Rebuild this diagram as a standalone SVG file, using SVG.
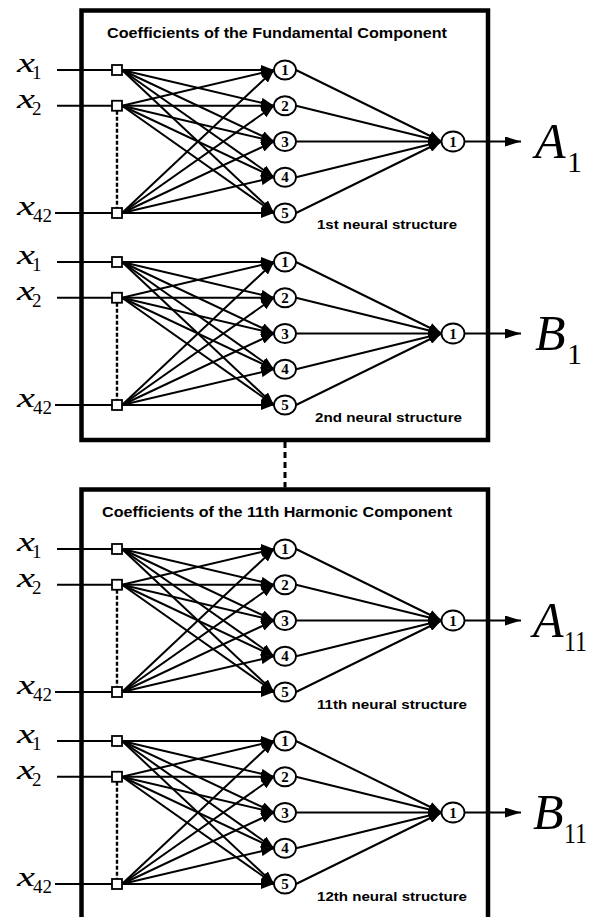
<svg xmlns="http://www.w3.org/2000/svg" width="589" height="917" viewBox="0 0 589 917">
<style>
.box{fill:none;stroke:#000;stroke-width:4.5}
.ln{stroke:#000;stroke-width:2;fill:none}
.in{stroke:#000;stroke-width:2.2;fill:none}
.sq{fill:#fff;stroke:#000;stroke-width:1.8}
.hn{fill:#fff;stroke:#000;stroke-width:1.8}
.num{font-family:"Liberation Serif",serif;font-weight:bold;font-size:15px;text-anchor:middle}
.xv{font-family:"Liberation Serif",serif;font-style:italic;font-size:27px}
.sub{font-family:"Liberation Serif",serif;font-size:19px}
.big{font-family:"Liberation Serif",serif;font-style:italic;font-size:50px}
.bsub{font-family:"Liberation Serif",serif;font-size:30px}
.ssub{font-family:"Liberation Serif",serif;font-size:24px}
.ttl{font-family:"Liberation Sans",Arial,sans-serif;font-weight:bold;font-size:14px}
.lbl{font-family:"Liberation Sans",Arial,sans-serif;font-weight:bold;font-size:13.5px}
.dash{stroke:#000;stroke-width:2.4;stroke-dasharray:4 2;fill:none}
</style>
<defs>
<marker id="ah" markerUnits="userSpaceOnUse" markerWidth="13" markerHeight="10" refX="13" refY="5" orient="auto">
<path d="M0,0 L13,5 L0,10 Z" fill="#000"/>
</marker>
<marker id="oh" markerUnits="userSpaceOnUse" markerWidth="16" markerHeight="10" refX="16" refY="5" orient="auto">
<path d="M0,0 L16,5 L0,10 Z" fill="#000"/>
</marker>
</defs>
<rect x="0" y="0" width="589" height="917" fill="#fff"/>

<g id="box1"><rect class="box" x="81.5" y="10.5" width="406.5" height="429.5"/>
<text class="ttl" x="107" y="38" textLength="340" lengthAdjust="spacingAndGlyphs">Coefficients of the Fundamental Component</text></g>
<g id="box2"><rect class="box" x="81.5" y="489.5" width="406.5" height="460"/>
<text class="ttl" x="102" y="517" textLength="350" lengthAdjust="spacingAndGlyphs">Coefficients of the 11th Harmonic Component</text></g>
<g id="link"><line x1="285" y1="442" x2="285" y2="487.5" stroke="#000" stroke-width="3" stroke-dasharray="6 4"/></g>

<!-- Structure 1 -->
<g id="s1">
<g id="s1-connectors">
<line class="in" x1="57" y1="70" x2="112" y2="70"/>
<line class="in" x1="57" y1="105.75" x2="112" y2="105.75"/>
<line class="in" x1="55" y1="213" x2="112" y2="213"/>
<line class="dash" x1="117" y1="110.75" x2="117" y2="208"/>
<line class="ln" marker-end="url(#ah)" x1="122" y1="70" x2="274" y2="70"/>
<line class="ln" marker-end="url(#ah)" x1="122" y1="70" x2="274" y2="105.75"/>
<line class="ln" marker-end="url(#ah)" x1="122" y1="70" x2="274" y2="141.5"/>
<line class="ln" marker-end="url(#ah)" x1="122" y1="70" x2="274" y2="177.25"/>
<line class="ln" marker-end="url(#ah)" x1="122" y1="70" x2="274" y2="213"/>
<line class="ln" marker-end="url(#ah)" x1="122" y1="105.75" x2="274" y2="70"/>
<line class="ln" marker-end="url(#ah)" x1="122" y1="105.75" x2="274" y2="105.75"/>
<line class="ln" marker-end="url(#ah)" x1="122" y1="105.75" x2="274" y2="141.5"/>
<line class="ln" marker-end="url(#ah)" x1="122" y1="105.75" x2="274" y2="177.25"/>
<line class="ln" marker-end="url(#ah)" x1="122" y1="105.75" x2="274" y2="213"/>
<line class="ln" marker-end="url(#ah)" x1="122" y1="213" x2="274" y2="70"/>
<line class="ln" marker-end="url(#ah)" x1="122" y1="213" x2="274" y2="105.75"/>
<line class="ln" marker-end="url(#ah)" x1="122" y1="213" x2="274" y2="141.5"/>
<line class="ln" marker-end="url(#ah)" x1="122" y1="213" x2="274" y2="177.25"/>
<line class="ln" marker-end="url(#ah)" x1="122" y1="213" x2="274" y2="213"/>
<line class="ln" marker-end="url(#ah)" x1="296" y1="70" x2="441.5" y2="141.5"/>
<line class="ln" marker-end="url(#ah)" x1="296" y1="105.75" x2="441.5" y2="141.5"/>
<line class="ln" marker-end="url(#ah)" x1="296" y1="141.5" x2="441.5" y2="141.5"/>
<line class="ln" marker-end="url(#ah)" x1="296" y1="177.25" x2="441.5" y2="141.5"/>
<line class="ln" marker-end="url(#ah)" x1="296" y1="213" x2="441.5" y2="141.5"/>
<line class="in" marker-end="url(#oh)" x1="464.5" y1="141.5" x2="521" y2="141.5"/>
</g>
<g id="s1-x1"><text class="xv" x="17" y="72" textLength="18" lengthAdjust="spacingAndGlyphs">x</text><text class="sub" x="32" y="79">1</text><rect class="sq" x="112" y="65" width="10" height="10"/></g>
<g id="s1-x2"><text class="xv" x="17" y="107.75" textLength="18" lengthAdjust="spacingAndGlyphs">x</text><text class="sub" x="32" y="114.75">2</text><rect class="sq" x="112" y="100.75" width="10" height="10"/></g>
<g id="s1-x42"><text class="xv" x="17" y="215" textLength="18" lengthAdjust="spacingAndGlyphs">x</text><text class="sub" x="33" y="222" textLength="19" lengthAdjust="spacingAndGlyphs">42</text><rect class="sq" x="112" y="208" width="10" height="10"/></g>
<g id="s1-h1"><ellipse class="hn" cx="285" cy="70" rx="11" ry="9.5"/><text class="num" x="285" y="75">1</text></g>
<g id="s1-h2"><ellipse class="hn" cx="285" cy="105.75" rx="11" ry="9.5"/><text class="num" x="285" y="110.75">2</text></g>
<g id="s1-h3"><ellipse class="hn" cx="285" cy="141.5" rx="11" ry="9.5"/><text class="num" x="285" y="146.5">3</text></g>
<g id="s1-h4"><ellipse class="hn" cx="285" cy="177.25" rx="11" ry="9.5"/><text class="num" x="285" y="182.25">4</text></g>
<g id="s1-h5"><ellipse class="hn" cx="285" cy="213" rx="11" ry="9.5"/><text class="num" x="285" y="218">5</text></g>
<g id="s1-out"><ellipse class="hn" cx="453" cy="141.5" rx="11.5" ry="10"/><text class="num" x="453" y="146.5">1</text></g>
<g id="s1-A1"><text class="big" x="535" y="157.5">A</text><text class="bsub" x="567" y="171.5">1</text></g>
<text class="lbl" x="317" y="229" textLength="140" lengthAdjust="spacingAndGlyphs">1st neural structure</text>
</g>

<!-- Structure 2 -->
<g id="s2" transform="translate(0,192)">
<g id="s2-connectors">
<line class="in" x1="57" y1="70" x2="112" y2="70"/>
<line class="in" x1="57" y1="105.75" x2="112" y2="105.75"/>
<line class="in" x1="55" y1="213" x2="112" y2="213"/>
<line class="dash" x1="117" y1="110.75" x2="117" y2="208"/>
<line class="ln" marker-end="url(#ah)" x1="122" y1="70" x2="274" y2="70"/>
<line class="ln" marker-end="url(#ah)" x1="122" y1="70" x2="274" y2="105.75"/>
<line class="ln" marker-end="url(#ah)" x1="122" y1="70" x2="274" y2="141.5"/>
<line class="ln" marker-end="url(#ah)" x1="122" y1="70" x2="274" y2="177.25"/>
<line class="ln" marker-end="url(#ah)" x1="122" y1="70" x2="274" y2="213"/>
<line class="ln" marker-end="url(#ah)" x1="122" y1="105.75" x2="274" y2="70"/>
<line class="ln" marker-end="url(#ah)" x1="122" y1="105.75" x2="274" y2="105.75"/>
<line class="ln" marker-end="url(#ah)" x1="122" y1="105.75" x2="274" y2="141.5"/>
<line class="ln" marker-end="url(#ah)" x1="122" y1="105.75" x2="274" y2="177.25"/>
<line class="ln" marker-end="url(#ah)" x1="122" y1="105.75" x2="274" y2="213"/>
<line class="ln" marker-end="url(#ah)" x1="122" y1="213" x2="274" y2="70"/>
<line class="ln" marker-end="url(#ah)" x1="122" y1="213" x2="274" y2="105.75"/>
<line class="ln" marker-end="url(#ah)" x1="122" y1="213" x2="274" y2="141.5"/>
<line class="ln" marker-end="url(#ah)" x1="122" y1="213" x2="274" y2="177.25"/>
<line class="ln" marker-end="url(#ah)" x1="122" y1="213" x2="274" y2="213"/>
<line class="ln" marker-end="url(#ah)" x1="296" y1="70" x2="441.5" y2="141.5"/>
<line class="ln" marker-end="url(#ah)" x1="296" y1="105.75" x2="441.5" y2="141.5"/>
<line class="ln" marker-end="url(#ah)" x1="296" y1="141.5" x2="441.5" y2="141.5"/>
<line class="ln" marker-end="url(#ah)" x1="296" y1="177.25" x2="441.5" y2="141.5"/>
<line class="ln" marker-end="url(#ah)" x1="296" y1="213" x2="441.5" y2="141.5"/>
<line class="in" marker-end="url(#oh)" x1="464.5" y1="141.5" x2="521" y2="141.5"/>
</g>
<g id="s2-x1"><text class="xv" x="17" y="72" textLength="18" lengthAdjust="spacingAndGlyphs">x</text><text class="sub" x="32" y="79">1</text><rect class="sq" x="112" y="65" width="10" height="10"/></g>
<g id="s2-x2"><text class="xv" x="17" y="107.75" textLength="18" lengthAdjust="spacingAndGlyphs">x</text><text class="sub" x="32" y="114.75">2</text><rect class="sq" x="112" y="100.75" width="10" height="10"/></g>
<g id="s2-x42"><text class="xv" x="17" y="215" textLength="18" lengthAdjust="spacingAndGlyphs">x</text><text class="sub" x="33" y="222" textLength="19" lengthAdjust="spacingAndGlyphs">42</text><rect class="sq" x="112" y="208" width="10" height="10"/></g>
<g id="s2-h1"><ellipse class="hn" cx="285" cy="70" rx="11" ry="9.5"/><text class="num" x="285" y="75">1</text></g>
<g id="s2-h2"><ellipse class="hn" cx="285" cy="105.75" rx="11" ry="9.5"/><text class="num" x="285" y="110.75">2</text></g>
<g id="s2-h3"><ellipse class="hn" cx="285" cy="141.5" rx="11" ry="9.5"/><text class="num" x="285" y="146.5">3</text></g>
<g id="s2-h4"><ellipse class="hn" cx="285" cy="177.25" rx="11" ry="9.5"/><text class="num" x="285" y="182.25">4</text></g>
<g id="s2-h5"><ellipse class="hn" cx="285" cy="213" rx="11" ry="9.5"/><text class="num" x="285" y="218">5</text></g>
<g id="s2-out"><ellipse class="hn" cx="453" cy="141.5" rx="11.5" ry="10"/><text class="num" x="453" y="146.5">1</text></g>
<g id="s2-B1"><text class="big" x="535" y="157.5">B</text><text class="bsub" x="567" y="171.5">1</text></g>
<text class="lbl" x="315" y="230" textLength="147" lengthAdjust="spacingAndGlyphs">2nd neural structure</text>
</g>

<!-- Structure 3 -->
<g id="s3" transform="translate(0,479)">
<g id="s3-connectors">
<line class="in" x1="57" y1="70" x2="112" y2="70"/>
<line class="in" x1="57" y1="105.75" x2="112" y2="105.75"/>
<line class="in" x1="55" y1="213" x2="112" y2="213"/>
<line class="dash" x1="117" y1="110.75" x2="117" y2="208"/>
<line class="ln" marker-end="url(#ah)" x1="122" y1="70" x2="274" y2="70"/>
<line class="ln" marker-end="url(#ah)" x1="122" y1="70" x2="274" y2="105.75"/>
<line class="ln" marker-end="url(#ah)" x1="122" y1="70" x2="274" y2="141.5"/>
<line class="ln" marker-end="url(#ah)" x1="122" y1="70" x2="274" y2="177.25"/>
<line class="ln" marker-end="url(#ah)" x1="122" y1="70" x2="274" y2="213"/>
<line class="ln" marker-end="url(#ah)" x1="122" y1="105.75" x2="274" y2="70"/>
<line class="ln" marker-end="url(#ah)" x1="122" y1="105.75" x2="274" y2="105.75"/>
<line class="ln" marker-end="url(#ah)" x1="122" y1="105.75" x2="274" y2="141.5"/>
<line class="ln" marker-end="url(#ah)" x1="122" y1="105.75" x2="274" y2="177.25"/>
<line class="ln" marker-end="url(#ah)" x1="122" y1="105.75" x2="274" y2="213"/>
<line class="ln" marker-end="url(#ah)" x1="122" y1="213" x2="274" y2="70"/>
<line class="ln" marker-end="url(#ah)" x1="122" y1="213" x2="274" y2="105.75"/>
<line class="ln" marker-end="url(#ah)" x1="122" y1="213" x2="274" y2="141.5"/>
<line class="ln" marker-end="url(#ah)" x1="122" y1="213" x2="274" y2="177.25"/>
<line class="ln" marker-end="url(#ah)" x1="122" y1="213" x2="274" y2="213"/>
<line class="ln" marker-end="url(#ah)" x1="296" y1="70" x2="441.5" y2="141.5"/>
<line class="ln" marker-end="url(#ah)" x1="296" y1="105.75" x2="441.5" y2="141.5"/>
<line class="ln" marker-end="url(#ah)" x1="296" y1="141.5" x2="441.5" y2="141.5"/>
<line class="ln" marker-end="url(#ah)" x1="296" y1="177.25" x2="441.5" y2="141.5"/>
<line class="ln" marker-end="url(#ah)" x1="296" y1="213" x2="441.5" y2="141.5"/>
<line class="in" marker-end="url(#oh)" x1="464.5" y1="141.5" x2="521" y2="141.5"/>
</g>
<g id="s3-x1"><text class="xv" x="17" y="72" textLength="18" lengthAdjust="spacingAndGlyphs">x</text><text class="sub" x="32" y="79">1</text><rect class="sq" x="112" y="65" width="10" height="10"/></g>
<g id="s3-x2"><text class="xv" x="17" y="107.75" textLength="18" lengthAdjust="spacingAndGlyphs">x</text><text class="sub" x="32" y="114.75">2</text><rect class="sq" x="112" y="100.75" width="10" height="10"/></g>
<g id="s3-x42"><text class="xv" x="17" y="215" textLength="18" lengthAdjust="spacingAndGlyphs">x</text><text class="sub" x="33" y="222" textLength="19" lengthAdjust="spacingAndGlyphs">42</text><rect class="sq" x="112" y="208" width="10" height="10"/></g>
<g id="s3-h1"><ellipse class="hn" cx="285" cy="70" rx="11" ry="9.5"/><text class="num" x="285" y="75">1</text></g>
<g id="s3-h2"><ellipse class="hn" cx="285" cy="105.75" rx="11" ry="9.5"/><text class="num" x="285" y="110.75">2</text></g>
<g id="s3-h3"><ellipse class="hn" cx="285" cy="141.5" rx="11" ry="9.5"/><text class="num" x="285" y="146.5">3</text></g>
<g id="s3-h4"><ellipse class="hn" cx="285" cy="177.25" rx="11" ry="9.5"/><text class="num" x="285" y="182.25">4</text></g>
<g id="s3-h5"><ellipse class="hn" cx="285" cy="213" rx="11" ry="9.5"/><text class="num" x="285" y="218">5</text></g>
<g id="s3-out"><ellipse class="hn" cx="453" cy="141.5" rx="11.5" ry="10"/><text class="num" x="453" y="146.5">1</text></g>
<g id="s3-A11"><text class="big" x="533" y="157.5">A</text><text class="ssub" transform="translate(564,171.5) scale(1,1.2)">11</text></g>
<text class="lbl" x="317" y="230" textLength="150" lengthAdjust="spacingAndGlyphs">11th neural structure</text>
</g>

<!-- Structure 4 -->
<g id="s4" transform="translate(0,671)">
<g id="s4-connectors">
<line class="in" x1="57" y1="70" x2="112" y2="70"/>
<line class="in" x1="57" y1="105.75" x2="112" y2="105.75"/>
<line class="in" x1="55" y1="213" x2="112" y2="213"/>
<line class="dash" x1="117" y1="110.75" x2="117" y2="208"/>
<line class="ln" marker-end="url(#ah)" x1="122" y1="70" x2="274" y2="70"/>
<line class="ln" marker-end="url(#ah)" x1="122" y1="70" x2="274" y2="105.75"/>
<line class="ln" marker-end="url(#ah)" x1="122" y1="70" x2="274" y2="141.5"/>
<line class="ln" marker-end="url(#ah)" x1="122" y1="70" x2="274" y2="177.25"/>
<line class="ln" marker-end="url(#ah)" x1="122" y1="70" x2="274" y2="213"/>
<line class="ln" marker-end="url(#ah)" x1="122" y1="105.75" x2="274" y2="70"/>
<line class="ln" marker-end="url(#ah)" x1="122" y1="105.75" x2="274" y2="105.75"/>
<line class="ln" marker-end="url(#ah)" x1="122" y1="105.75" x2="274" y2="141.5"/>
<line class="ln" marker-end="url(#ah)" x1="122" y1="105.75" x2="274" y2="177.25"/>
<line class="ln" marker-end="url(#ah)" x1="122" y1="105.75" x2="274" y2="213"/>
<line class="ln" marker-end="url(#ah)" x1="122" y1="213" x2="274" y2="70"/>
<line class="ln" marker-end="url(#ah)" x1="122" y1="213" x2="274" y2="105.75"/>
<line class="ln" marker-end="url(#ah)" x1="122" y1="213" x2="274" y2="141.5"/>
<line class="ln" marker-end="url(#ah)" x1="122" y1="213" x2="274" y2="177.25"/>
<line class="ln" marker-end="url(#ah)" x1="122" y1="213" x2="274" y2="213"/>
<line class="ln" marker-end="url(#ah)" x1="296" y1="70" x2="441.5" y2="141.5"/>
<line class="ln" marker-end="url(#ah)" x1="296" y1="105.75" x2="441.5" y2="141.5"/>
<line class="ln" marker-end="url(#ah)" x1="296" y1="141.5" x2="441.5" y2="141.5"/>
<line class="ln" marker-end="url(#ah)" x1="296" y1="177.25" x2="441.5" y2="141.5"/>
<line class="ln" marker-end="url(#ah)" x1="296" y1="213" x2="441.5" y2="141.5"/>
<line class="in" marker-end="url(#oh)" x1="464.5" y1="141.5" x2="521" y2="141.5"/>
</g>
<g id="s4-x1"><text class="xv" x="17" y="72" textLength="18" lengthAdjust="spacingAndGlyphs">x</text><text class="sub" x="32" y="79">1</text><rect class="sq" x="112" y="65" width="10" height="10"/></g>
<g id="s4-x2"><text class="xv" x="17" y="107.75" textLength="18" lengthAdjust="spacingAndGlyphs">x</text><text class="sub" x="32" y="114.75">2</text><rect class="sq" x="112" y="100.75" width="10" height="10"/></g>
<g id="s4-x42"><text class="xv" x="17" y="215" textLength="18" lengthAdjust="spacingAndGlyphs">x</text><text class="sub" x="33" y="222" textLength="19" lengthAdjust="spacingAndGlyphs">42</text><rect class="sq" x="112" y="208" width="10" height="10"/></g>
<g id="s4-h1"><ellipse class="hn" cx="285" cy="70" rx="11" ry="9.5"/><text class="num" x="285" y="75">1</text></g>
<g id="s4-h2"><ellipse class="hn" cx="285" cy="105.75" rx="11" ry="9.5"/><text class="num" x="285" y="110.75">2</text></g>
<g id="s4-h3"><ellipse class="hn" cx="285" cy="141.5" rx="11" ry="9.5"/><text class="num" x="285" y="146.5">3</text></g>
<g id="s4-h4"><ellipse class="hn" cx="285" cy="177.25" rx="11" ry="9.5"/><text class="num" x="285" y="182.25">4</text></g>
<g id="s4-h5"><ellipse class="hn" cx="285" cy="213" rx="11" ry="9.5"/><text class="num" x="285" y="218">5</text></g>
<g id="s4-out"><ellipse class="hn" cx="453" cy="141.5" rx="11.5" ry="10"/><text class="num" x="453" y="146.5">1</text></g>
<g id="s4-B11"><text class="big" x="533" y="157.5">B</text><text class="ssub" transform="translate(564,171.5) scale(1,1.2)">11</text></g>
<text class="lbl" x="317" y="230" textLength="150" lengthAdjust="spacingAndGlyphs">12th neural structure</text>
</g>
</svg>
